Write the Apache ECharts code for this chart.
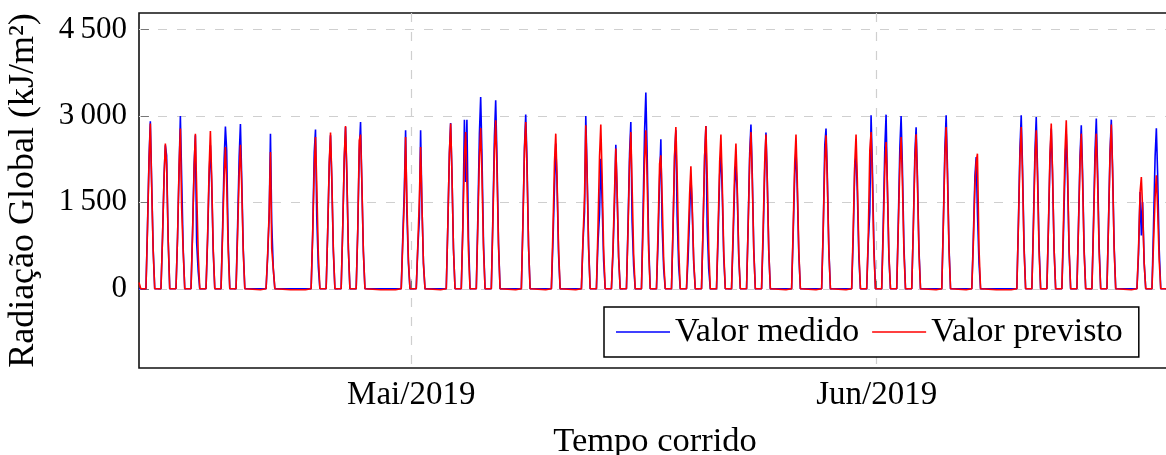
<!DOCTYPE html>
<html>
<head>
<meta charset="utf-8">
<script src="https://cdn.jsdelivr.net/npm/echarts/dist/echarts.min.js"></script>
<style>
  html, body { margin: 0; padding: 0; background: #fff; overflow: hidden; }
  #chart { width: 1166px; height: 455px; }
</style>
</head>
<body>
<div id="chart"></div>
<script>
// x values: days since 13 Apr 2019 00:00 ; each daily profile gives values at the hours below
const profileHours = [8, 10.5, 13, 15, 17, 19.5, 22];
const xTickValues = [18, 49];
const xTickLabels = ['Mai/2019', 'Jun/2019'];
const yTickValues = [0, 1500, 3000, 4500];
const yTickLabels = ['0', '1\u2009500', '3\u2009000', '4\u2009500'];

// first value at the left edge of the plot
const medidoStart = 0;
const previstoStart = 110;

// Valor medido (measured), one entry per day (a single number = flat level all day)
const medido = [
  [0, 1100, 2300, 2907, 1900, 700, 0],
  [0, 900, 1980, 2490, 2316, 850, 0],
  [0, 900, 2084, 3000, 1970, 700, 0],
  [0, 1000, 2150, 2663, 810, 300, 0],
  [0, 850, 1950, 2490, 1850, 650, 0],
  [0, 1050, 2250, 2814, 2403, 800, 0],
  [0, 1100, 2300, 2860, 1950, 700, 0],
  0,
  [0, 550, 1290, 2692, 1150, 350, 0],
  0,
  0,
  [0, 950, 2374, 2762, 1250, 380, 0],
  [0, 1000, 2150, 2663, 1900, 650, 0],
  [0, 1050, 2250, 2808, 2000, 700, 0],
  [0, 1000, 2403, 2895, 1853, 650, 0],
  0,
  0,
  [0, 900, 1737, 2750, 1332, 450, 0],
  [0, 700, 1216, 2750, 1500, 450, 0],
  0,
  [0, 1100, 2350, 2878, 2050, 700, 0],
  [0, 1100, 2935, 1853, 2935, 900, 0],
  [0, 1250, 2700, 3329, 2350, 800, 0],
  [0, 1250, 2650, 3271, 2300, 800, 0],
  0,
  [0, 1150, 2450, 3022, 2258, 750, 0],
  0,
  [0, 800, 1766, 2519, 1850, 600, 0],
  0,
  [0, 800, 1332, 3000, 2100, 750, 0],
  [0, 800, 1303, 2258, 1550, 500, 0],
  [0, 637, 1500, 2501, 1700, 550, 0],
  [0, 1100, 2350, 2895, 1187, 400, 0],
  [0, 1300, 2750, 3404, 2400, 800, 0],
  [0, 800, 1900, 2594, 1100, 350, 0],
  [0, 1050, 2300, 2750, 1274, 400, 0],
  [0, 521, 1300, 1957, 1400, 450, 0],
  [0, 1050, 2300, 2826, 1100, 350, 0],
  [0, 900, 1969, 2345, 1700, 550, 0],
  [0, 850, 1800, 2142, 1700, 550, 0],
  [0, 1100, 2350, 2849, 2050, 700, 0],
  [0, 900, 2055, 2710, 1950, 650, 0],
  0,
  [0, 950, 2000, 2414, 1750, 600, 0],
  0,
  [0, 1000, 2490, 2779, 2000, 700, 0],
  0,
  [0, 900, 2142, 2287, 1700, 550, 0],
  [0, 800, 1332, 3011, 2150, 750, 0],
  [0, 1150, 2450, 3022, 1795, 550, 0],
  [0, 1150, 2450, 3000, 2150, 750, 0],
  [0, 1050, 2345, 2802, 2000, 700, 0],
  0,
  [0, 1150, 2450, 3011, 2150, 750, 0],
  0,
  [0, 900, 1950, 2287, 1332, 450, 0],
  0,
  0,
  [0, 1150, 2450, 3011, 2150, 750, 0],
  [0, 1150, 2400, 2982, 2100, 750, 0],
  [0, 1050, 2250, 2779, 2000, 700, 0],
  [0, 950, 2084, 2692, 1950, 650, 0],
  [0, 1100, 2300, 2837, 2050, 700, 0],
  [0, 1150, 2400, 2953, 2100, 750, 0],
  [0, 1150, 2400, 2935, 2100, 750, 0],
  0,
  [0, 600, 1679, 926, 1505, 450, 0],
  [0, 1100, 2300, 2787, 2000, 700, 0]
];

// Valor previsto (predicted); on the flat days it sits just under the measured line
const previsto = [
  [0, 1050, 2250, 2866, 1850, 666, 0],
  [0, 900, 1950, 2519, 2150, 850, 0],
  [0, 900, 2150, 2780, 1420, 650, 0],
  [0, 950, 2100, 2692, 1750, 600, 0],
  [0, 900, 2100, 2739, 1950, 700, 0],
  [0, 950, 1950, 2460, 1850, 650, 0],
  [0, 950, 2000, 2500, 1800, 650, 0],
  -18,
  [0, 600, 1350, 2374, 700, 350, 0],
  -18,
  -18,
  [0, 950, 2100, 2635, 1800, 600, 0],
  [0, 1000, 2200, 2710, 1950, 700, 0],
  [0, 1050, 2300, 2826, 2050, 700, 0],
  [0, 1000, 2577, 2675, 1900, 650, 0],
  -18,
  -18,
  [0, 800, 1563, 2635, 1550, 500, 0],
  [0, 750, 1563, 2460, 1500, 450, 0],
  -18,
  [0, 1100, 2350, 2866, 2050, 700, 0],
  [0, 1050, 2300, 2721, 1853, 650, 0],
  [0, 1100, 2300, 2791, 2000, 700, 0],
  [0, 1150, 2400, 2924, 2100, 750, 0],
  -18,
  [0, 1100, 2400, 2895, 2100, 750, 0],
  -18,
  [0, 1000, 2200, 2692, 1950, 700, 0],
  -18,
  [0, 850, 1592, 2837, 2000, 700, 0],
  [0, 1050, 2300, 2849, 2000, 700, 0],
  [0, 700, 1700, 2432, 1750, 550, 0],
  [0, 1000, 2200, 2721, 1800, 600, 0],
  [0, 1050, 2250, 2750, 1950, 650, 0],
  [0, 1000, 2171, 2316, 1600, 500, 0],
  [0, 1100, 2350, 2808, 2000, 700, 0],
  [0, 800, 1650, 2125, 1500, 500, 0],
  [0, 1100, 2300, 2826, 2000, 700, 0],
  [0, 1050, 2200, 2675, 1900, 650, 0],
  [0, 1000, 2050, 2519, 1800, 600, 0],
  [0, 1050, 2250, 2721, 1950, 650, 0],
  [0, 1050, 2200, 2675, 1900, 650, 0],
  -18,
  [0, 1050, 2200, 2675, 1900, 650, 0],
  -18,
  [0, 1050, 2200, 2663, 1900, 650, 0],
  -18,
  [0, 1050, 2200, 2675, 1900, 650, 0],
  [0, 900, 2403, 2721, 1950, 650, 0],
  [0, 1000, 2100, 2548, 1850, 600, 0],
  [0, 1050, 2150, 2635, 1900, 650, 0],
  [0, 1050, 2200, 2681, 1900, 650, 0],
  -18,
  [0, 1100, 2300, 2808, 2000, 700, 0],
  -18,
  [0, 800, 1800, 2200, 2345, 700, 0],
  -18,
  -18,
  [0, 1100, 2300, 2808, 2000, 700, 0],
  [0, 1050, 2250, 2750, 1950, 650, 0],
  [0, 1100, 2350, 2866, 2050, 700, 0],
  [0, 1150, 2400, 2924, 2100, 700, 0],
  [0, 1050, 2200, 2692, 1900, 650, 0],
  [0, 1050, 2200, 2692, 1900, 650, 0],
  [0, 1100, 2350, 2849, 2050, 700, 0],
  -18,
  [0, 700, 1679, 1940, 1400, 450, 0],
  [0, 800, 1600, 1970, 1400, 500, 0]
];

const X_MIN = -0.13, X_MAX = 68.6;

function toPoints(profiles, startValue) {
  const pts = [[X_MIN, startValue], [X_MIN + 0.12, 0]];
  profiles.forEach((p, d) => {
    if (Array.isArray(p)) {
      profileHours.forEach((h, k) => pts.push([d + h / 24, p[k]]));
    } else if (p !== 0) {
      pts.push([d + 1 / 24, p], [d + 23 / 24, p]);
    }
  });
  pts.push([X_MAX, 0]);
  return pts;
}

const FONT = 'Liberation Serif';
const chart = echarts.init(document.getElementById('chart'), null, { renderer: 'canvas' });
chart.setOption({
  animation: false,
  backgroundColor: '#fff',
  grid: {
    left: 139, top: 13, width: 1032, height: 355,
    outerBoundsMode: 'none', containLabel: false,
    show: true, borderColor: '#111', borderWidth: 1.6, backgroundColor: 'transparent'
  },
  legend: {
    left: 604, top: 307,
    padding: [8, 16, 8, 12],
    icon: 'rect',
    itemWidth: 54, itemHeight: 1.6, itemGap: 13,
    borderColor: '#000', borderWidth: 1.5, backgroundColor: '#fff',
    textStyle: { fontFamily: FONT, fontSize: 34, color: '#000' },
    data: ['Valor medido', 'Valor previsto']
  },
  xAxis: {
    type: 'value', min: X_MIN, max: X_MAX,
    name: 'Tempo corrido', nameLocation: 'middle', nameGap: 56,
    nameTextStyle: { fontFamily: FONT, fontSize: 34.5, color: '#000' },
    axisLine: { show: false },
    axisTick: { show: true, inside: true, length: 8, customValues: xTickValues, lineStyle: { color: '#777' } },
    axisLabel: {
      customValues: xTickValues, margin: 11,
      fontFamily: FONT, fontSize: 33, color: '#000',
      formatter: v => xTickLabels[xTickValues.indexOf(v)]
    },
    splitLine: { show: true, lineStyle: { color: '#cfcfcf', width: 1.2, type: [9, 10] } }
  },
  yAxis: {
    type: 'value', min: -1375, max: 4786,
    name: 'Radiação Global (kJ/m²)', nameLocation: 'middle', nameGap: 97,
    nameTextStyle: { fontFamily: FONT, fontSize: 36, color: '#000' },
    axisLine: { show: false },
    axisTick: { show: true, inside: true, length: 8, customValues: yTickValues, lineStyle: { color: '#777' } },
    axisLabel: {
      customValues: yTickValues, margin: 12,
      fontFamily: FONT, fontSize: 31, color: '#000',
      formatter: v => yTickLabels[yTickValues.indexOf(v)]
    },
    splitLine: { show: true, lineStyle: { color: '#cfcfcf', width: 1.2, type: [9, 10] } }
  },
  series: [
    {
      name: 'Valor medido', type: 'line', symbol: 'none', showSymbol: false,
      data: toPoints(medido, medidoStart),
      lineStyle: { color: '#0000ff', width: 1.6 }, itemStyle: { color: '#0000ff' }
    },
    {
      name: 'Valor previsto', type: 'line', symbol: 'none', showSymbol: false,
      data: toPoints(previsto, previstoStart),
      lineStyle: { color: '#ff0000', width: 1.6 }, itemStyle: { color: '#ff0000' }
    }
  ]
});
</script>
</body>
</html>
